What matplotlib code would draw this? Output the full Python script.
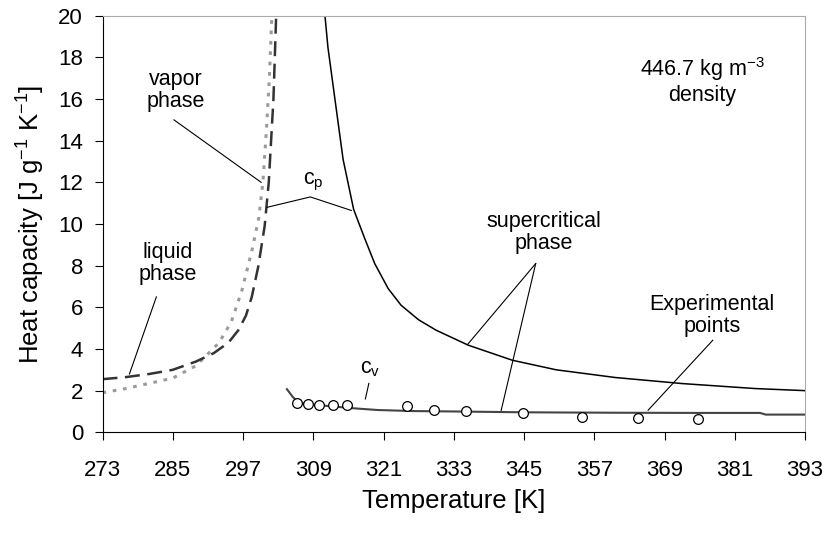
import matplotlib
matplotlib.use("Agg")
from matplotlib import pyplot as plt

plt.rcParams['font.family'] = ['Liberation Sans', 'DejaVu Sans']
plt.rcParams['mathtext.fontset'] = 'custom'
plt.rcParams['mathtext.rm'] = 'Liberation Sans'
plt.rcParams['mathtext.it'] = 'Liberation Sans'
plt.rcParams['mathtext.default'] = 'regular'

# liquid phase cp (gray dotted)
liq_t = [273, 277, 281, 285, 289, 292.9, 295, 296.8, 298.5, 299.7, 300.4, 301.0, 301.5, 302.0]
liq_cp = [1.9, 2.1, 2.35, 2.6, 3.2, 4.3, 5.3, 6.8, 8.7, 10.3, 12.0, 14.5, 17.0, 20.5]

# vapor phase cp (black dashed)
vap_t = [273, 277, 281, 285, 289, 292, 294.5, 296.2, 297.5, 298.5, 299.6, 300.7, 301.4, 302.2, 302.7]
vap_cp = [2.55, 2.65, 2.8, 3.0, 3.4, 3.8, 4.3, 4.9, 5.6, 6.5, 7.95, 9.9, 12.0, 16.0, 20.3]

# supercritical cp
sc_t = [310.9, 311.5, 312.7, 314.1, 315.9, 317.8, 319.5, 321.8, 324.0, 327.0, 330.0,
        335.5, 343.0, 350.5, 360.6, 372.0, 384.5, 393]
sc_cp = [20.3, 18.5, 16.0, 13.1, 10.7, 9.3, 8.1, 6.9, 6.1, 5.4, 4.9,
         4.18, 3.46, 3.0, 2.63, 2.34, 2.1, 2.0]

# supercritical cv
cv_t = [304.5, 305.5, 306.5, 309, 312, 316, 320, 326, 333, 345, 360, 375, 385.3, 386.3, 393]
cv = [2.07, 1.7, 1.42, 1.33, 1.25, 1.15, 1.07, 1.02, 1.0, 0.96, 0.94, 0.93, 0.93, 0.85, 0.85]

# experimental points
exp_t = [306.2, 308.1, 310.0, 312.3, 314.8, 325.0, 329.7, 335.1, 344.8, 354.9, 364.5, 374.7]
exp_cv = [1.42, 1.38, 1.30, 1.33, 1.30, 1.26, 1.08, 1.04, 0.94, 0.73, 0.67, 0.62]

x_ticks = list(range(273, 394, 12))
y_ticks = list(range(0, 21, 2))


def make():
    fig, ax = plt.subplots(figsize=(8.27, 5.34), dpi=100)
    fig.subplots_adjust(left=102.5 / 827, right=805 / 827, top=1 - 15.7 / 534, bottom=1 - 432.3 / 534)

    ax.plot(liq_t, liq_cp, color='#9a9a9a', linestyle=(0, (1.2, 2.2)), linewidth=2.2)
    ax.plot(vap_t, vap_cp, color='#333333', linestyle=(0, (6, 3)), linewidth=1.8)
    ax.plot(sc_t, sc_cp, color='black', linewidth=1.1)
    ax.plot(cv_t, cv, color='#444444', linewidth=1.5)
    ax.plot(exp_t, exp_cv, linestyle='none', marker='o', markersize=7,
            markerfacecolor='white', markeredgecolor='black', markeredgewidth=0.9)

    ax.set_xlim(273, 393)
    ax.set_ylim(0, 20)
    ax.set_xticks(x_ticks)
    ax.set_yticks(y_ticks)
    ax.tick_params(direction='out', length=6, labelsize=16, color='black')
    ax.tick_params(axis='x', pad=14)
    ax.tick_params(axis='y', pad=8)
    ax.spines['top'].set_color('#aaaaaa')
    ax.spines['right'].set_color('#aaaaaa')
    ax.set_xlabel('Temperature [K]', fontsize=18.5, labelpad=6)
    ax.set_ylabel('Heat capacity [J g$^{-1}$ K$^{-1}$]', fontsize=18.5, labelpad=8)

    fs = 15.5
    lw = 0.8
    # labels and leader lines
    ax.text(285.5, 16.4, 'vapor\nphase', fontsize=fs, ha='center', va='center', linespacing=1.1)
    ax.plot([285.2, 300.1], [15.0, 12.0], color='black', linewidth=lw)

    ax.text(284.1, 8.1, 'liquid\nphase', fontsize=fs, ha='center', va='center', linespacing=1.1)
    ax.plot([282.2, 277.6], [6.5, 2.8], color='black', linewidth=lw)

    ax.text(309.0, 12.0, 'c$_p$', fontsize=fs, ha='center', va='center')
    ax.plot([301.1, 308.5, 315.5], [10.8, 11.3, 10.65], color='black', linewidth=lw)

    ax.text(348.4, 9.6, 'supercritical\nphase', fontsize=fs, ha='center', va='center', linespacing=1.1)
    ax.plot([347.0, 335.4], [8.1, 4.23], color='black', linewidth=lw)
    ax.plot([347.0, 341.1], [8.1, 1.05], color='black', linewidth=lw)

    ax.text(377.1, 5.6, 'Experimental\npoints', fontsize=fs, ha='center', va='center', linespacing=1.1)
    ax.plot([377.25, 366.2], [4.42, 1.06], color='black', linewidth=lw)

    ax.text(318.7, 3.05, 'c$_v$', fontsize=fs, ha='center', va='center')
    ax.plot([318.5, 317.9], [2.35, 1.6], color='black', linewidth=lw)

    ax.text(375.5, 16.9, '446.7 kg m$^{-3}$\ndensity', fontsize=15.5, ha='center', va='center',
            linespacing=1.1)

    plt.savefig('out.png', dpi=100)
    plt.close()
    return None


make()
